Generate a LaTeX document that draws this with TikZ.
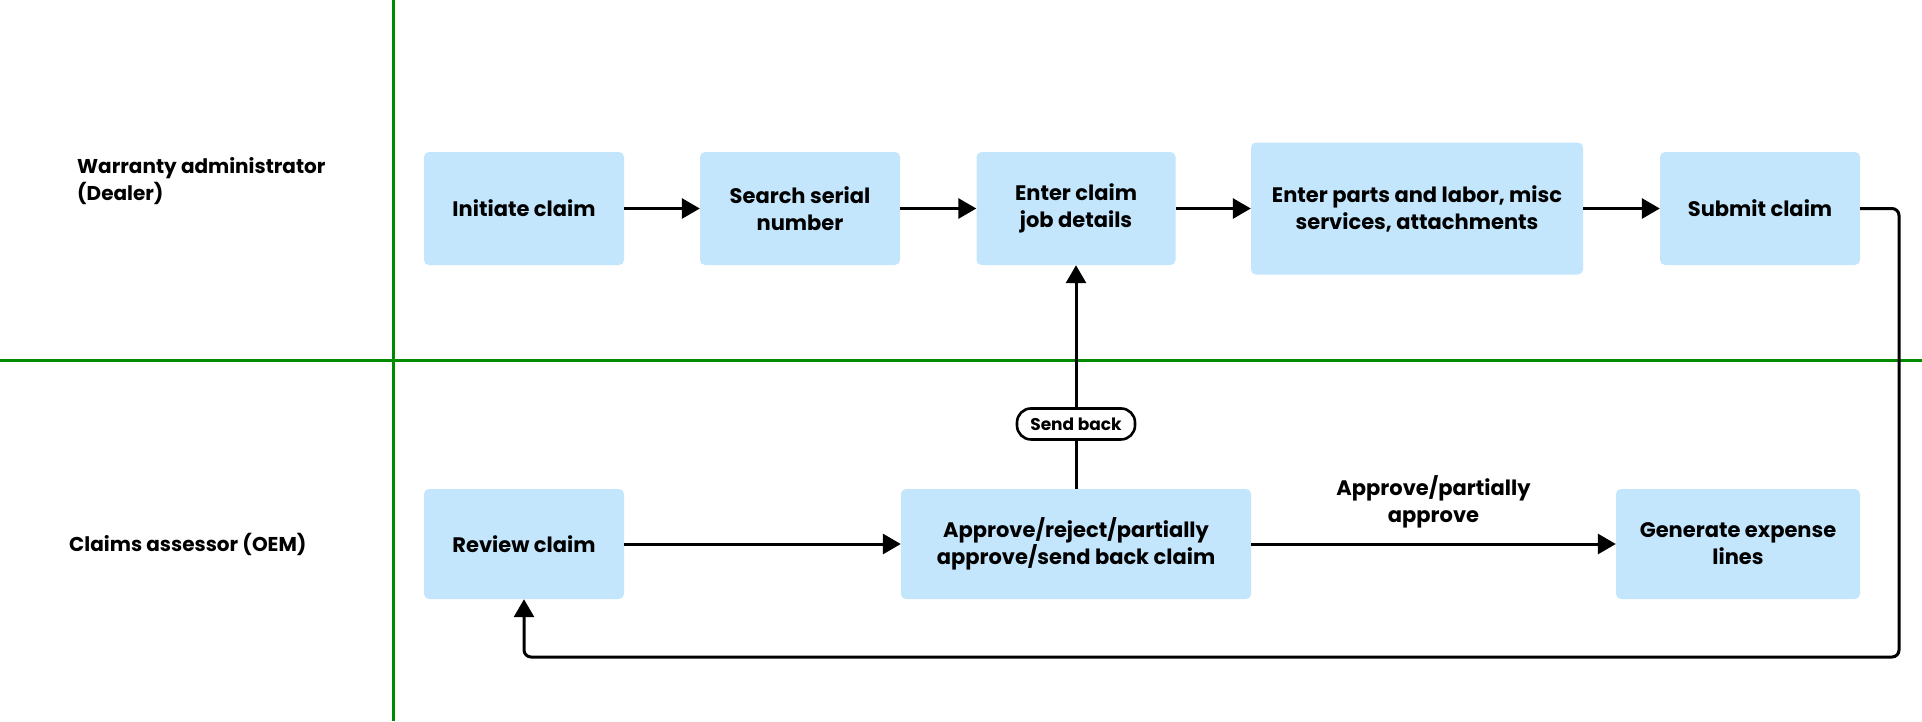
\documentclass[tikz,border=0pt]{standalone}
\usepackage{fontspec}
\setmainfont{Poppins}
\usetikzlibrary{arrows.meta}
\definecolor{boxblue}{HTML}{C3E6FC}
\definecolor{lanegreen}{HTML}{008A00}
\newcommand{\boxfont}{\fontsize{21}{27}\selectfont\bfseries}
\newcommand{\lanefont}{\fontsize{20}{27}\selectfont\bfseries}
\newcommand{\pillfont}{\fontsize{17}{20}\selectfont\bfseries}
\tikzset{
  stepbox/.style={rectangle, rounded corners=5pt, fill=boxblue, align=center, font=\boxfont, inner sep=0pt, text=black},
  arr/.style={-{Triangle[length=18pt,width=20pt]}, line width=3pt, black},
  laneline/.style={draw=lanegreen, line width=3pt},
  lanelabel/.style={anchor=west, align=left, font=\lanefont, inner sep=0pt},
  pill/.style={draw=black, line width=2.6pt, fill=white, rounded corners=14pt, minimum width=118pt, minimum height=31pt, inner sep=0pt, font=\pillfont},
  flowlabel/.style={align=center, font=\boxfont, inner sep=0pt}
}
\begin{document}
\begin{tikzpicture}[x=1pt, y=-1pt]
\useasboundingbox (0,0) rectangle (1922,721);
\fill[white] (0,0) rectangle (1922,721);
% swimlane lines
\draw[laneline] (393.5,0) -- (393.5,721);
\draw[laneline] (0,360.5) -- (1922,360.5);
% lane labels
\node[lanelabel] (lanedealer) at (77,181) {Warranty administrator\\(Dealer)};
\node[lanelabel] (laneoem) at (69,544) {Claims assessor (OEM)};
% top row
\node[stepbox, minimum width=200pt, minimum height=113pt] (init) at (524,208.5) {Initiate claim};
\node[stepbox, minimum width=200pt, minimum height=113pt] (search) at (800,208.5) {Search serial\\number};
\node[stepbox, minimum width=199pt, minimum height=113pt] (enterjob) at (1076,208.5) {Enter claim\\job details};
\node[stepbox, minimum width=332pt, minimum height=132pt] (parts) at (1417,208.5) {Enter parts and labor, misc\\services, attachments};
\node[stepbox, minimum width=200pt, minimum height=113pt] (submit) at (1760,208.5) {Submit claim};
% bottom row
\node[stepbox, minimum width=200pt, minimum height=110pt] (review) at (524,544) {Review claim};
\node[stepbox, minimum width=350pt, minimum height=110pt] (approve) at (1076,544) {Approve/reject/partially\\approve/send back claim};
\node[stepbox, minimum width=244pt, minimum height=110pt] (generate) at (1738,544) {Generate expense\\lines};
% connectors
\draw[arr] (init) -- (search);
\draw[arr] (search) -- (enterjob);
\draw[arr] (enterjob) -- (parts);
\draw[arr] (parts) -- (submit);
\draw[arr] (review) -- (approve);
\draw[arr] (approve) -- node[flowlabel, above=14pt] (applabel) {Approve/partially\\approve} (generate);
\draw[arr] (approve.north) -- node[pill, pos=0.29] (sendback) {Send back} (enterjob.south);
\coordinate (loopc) at (1899,657);
\draw[arr, rounded corners=7pt] (submit.east) -| (loopc) -| (review.south);
\end{tikzpicture}
\end{document}
